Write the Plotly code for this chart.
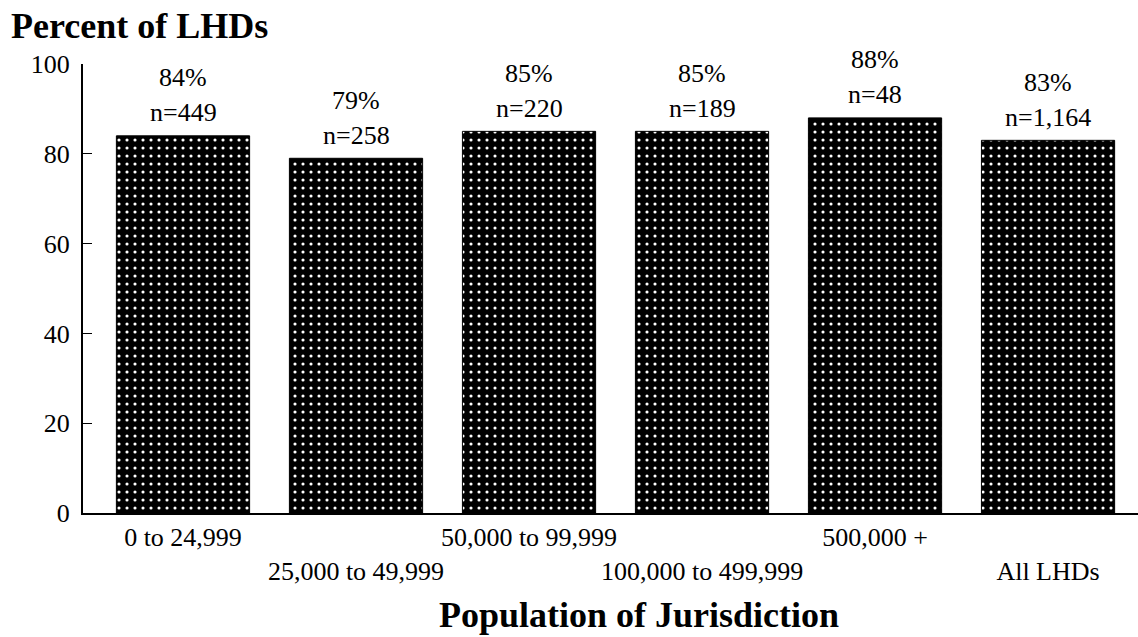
import plotly.graph_objects as go

# Share of local health departments, by population of jurisdiction
categories = ["0 to 24,999", "25,000 to 49,999", "50,000 to 99,999",
              "100,000 to 499,999", "500,000 +", "All LHDs"]
percent = [84, 79, 85, 85, 88, 83]
counts = [449, 258, 220, 189, 48, 1164]
y_ticks = [0, 20, 40, 60, 80, 100]

SERIF = "Liberation Serif, Times New Roman, serif"
TXT = 26
x_pos = list(range(len(categories)))

# Alternate category labels between two rows so the long ones do not collide
tick_text = [c if i % 2 == 0 else "<br>" + c for i, c in enumerate(categories)]

fig = go.Figure(
    go.Bar(
        x=x_pos,
        y=percent,
        width=0.77,
        marker=dict(
            color="black",
            line=dict(color="black", width=1),
            pattern=dict(shape=".", fgcolor="white", bgcolor="black",
                         size=8, solidity=0.12, fillmode="replace"),
        ),
        hoverinfo="skip",
    )
)

# Value labels above each bar: percentage and sample size
for x, p, n in zip(x_pos, percent, counts):
    fig.add_annotation(x=x, y=p, text=f"n={n:,}", showarrow=False,
                       yanchor="middle", yshift=23,
                       font=dict(family=SERIF, size=TXT, color="black"))
    fig.add_annotation(x=x, y=p, text=f"{p}%", showarrow=False,
                       yanchor="middle", yshift=58,
                       font=dict(family=SERIF, size=TXT, color="black"))

fig.add_annotation(x=0.0, y=1.0, xref="paper", yref="paper",
                   xshift=-74, yshift=38, xanchor="left", yanchor="middle",
                   text="<b>Percent of LHDs</b>", showarrow=False,
                   font=dict(family=SERIF, size=36, color="black"))
fig.add_annotation(x=0.527, y=0.0, xref="paper", yref="paper",
                   yshift=-102, xanchor="center", yanchor="middle",
                   text="<b>Population of Jurisdiction</b>", showarrow=False,
                   font=dict(family=SERIF, size=36, color="black"))

fig.update_layout(
    width=1138, height=637,
    margin=dict(l=83, r=0, t=64, b=124),
    paper_bgcolor="white", plot_bgcolor="white",
    showlegend=False,
    font=dict(family=SERIF, size=TXT, color="black"),
    xaxis=dict(
        range=[-0.578, 5.52],
        tickvals=x_pos, ticktext=tick_text, tickangle=0,
        automargin=False,
        showline=True, linecolor="black", linewidth=2,
        ticks="", showgrid=False, zeroline=False,
        tickfont=dict(family=SERIF, size=TXT, color="black"),
        fixedrange=True,
    ),
    yaxis=dict(
        range=[0, 100],
        tickvals=y_ticks, automargin=False,
        showline=True, linecolor="black", linewidth=2,
        ticks="inside", ticklen=9, tickwidth=1, tickcolor="black",
        ticklabelstandoff=6,
        showgrid=False, zeroline=False,
        tickfont=dict(family=SERIF, size=TXT, color="black"),
        fixedrange=True,
    ),
)

fig.write_html("out.html")
